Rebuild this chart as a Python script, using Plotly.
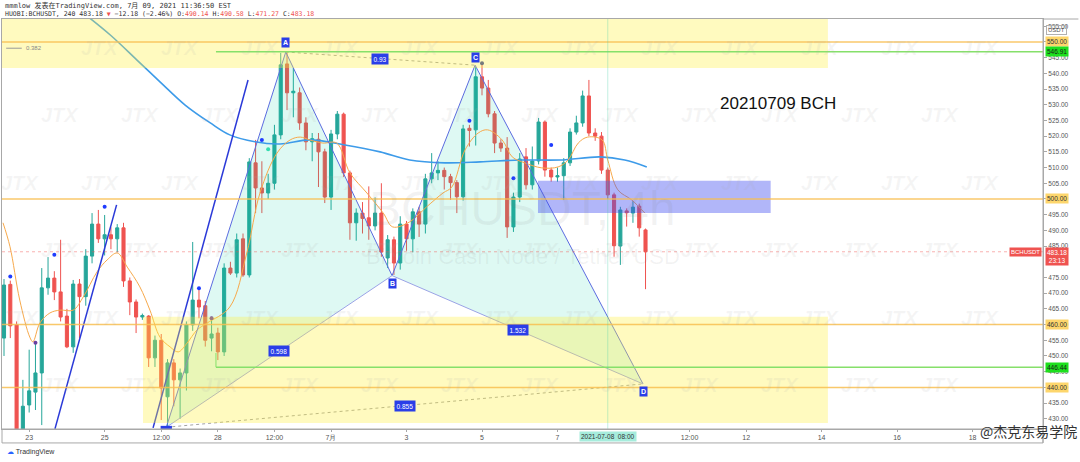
import plotly.graph_objects as go

# ---------------- data (4h bars, first bar 2021-06-22 08:00) ----------------
bar_open = [455.7, 472.8, 459.9, 425.0, 434.4, 438.5, 444.6, 471.7, 474.8, 470.4,
            462.7, 452.9, 472.9, 468.9, 481.8, 492.0, 487.3, 488.6, 487.3, 490.8,
            473.9, 467.2, 462.4, 462.7, 449.4, 455.0, 437.0, 447.8, 442.4, 444.6,
            459.9, 467.8, 466.0, 455.7, 457.3, 451.3, 478.0, 476.4, 487.3, 475.8,
            511.5, 503.5, 501.9, 505.0, 520.4, 543.0, 533.8, 533.8, 524.2, 518.2,
            519.0, 515.0, 500.6, 520.7, 527.0, 508.3, 492.4, 495.5, 494.0, 491.4,
            495.5, 481.2, 487.0, 479.6, 492.0, 487.3, 495.9, 492.0, 506.4, 508.3,
            509.1, 507.1, 505.2, 500.7, 522.5, 522.0, 538.9, 535.3, 527.1, 517.8,
            516.2, 491.1, 500.6, 513.4, 504.5, 512.1, 524.5, 509.2, 507.0, 507.4,
            511.5, 521.3, 524.2, 532.8, 521.0, 520.0, 509.2, 501.3, 485.0, 496.2,
            495.5, 497.7, 490.14]
bar_high = [474.5, 474.0, 461.0, 442.4, 452.0, 454.0, 478.0, 481.5, 477.0, 487.0,
            465.0, 474.2, 474.5, 484.0, 495.5, 496.5, 494.9, 491.0, 492.0, 492.4,
            475.0, 468.0, 463.5, 463.0, 456.5, 457.0, 449.0, 449.0, 446.0, 461.0,
            486.3, 471.0, 467.5, 462.0, 459.0, 479.5, 480.0, 489.0, 489.0, 513.0,
            518.8, 512.0, 508.0, 523.6, 546.5, 546.8, 541.7, 535.5, 526.0, 521.0,
            521.0, 516.0, 522.0, 528.0, 527.5, 509.0, 497.0, 499.0, 504.0, 500.5,
            505.0, 488.5, 488.0, 494.5, 493.0, 497.0, 497.5, 508.0, 514.6, 512.0,
            510.0, 508.0, 506.0, 523.6, 523.6, 542.1, 542.8, 537.9, 528.0, 519.0,
            519.7, 502.0, 514.6, 516.2, 516.7, 525.8, 525.0, 510.0, 510.0, 513.0,
            522.5, 526.5, 534.5, 537.9, 522.5, 521.3, 510.0, 502.0, 497.5, 497.0,
            499.3, 498.5, 490.58]
bar_low = [450.0, 455.7, 421.0, 421.0, 432.0, 432.8, 428.0, 469.5, 467.8, 461.0,
           452.5, 451.0, 455.7, 466.0, 479.5, 486.0, 482.0, 484.0, 483.0, 472.0,
           463.0, 457.3, 461.5, 446.5, 446.5, 429.6, 427.5, 434.0, 430.0, 439.0,
           458.0, 462.0, 453.0, 451.5, 448.7, 450.0, 475.8, 475.0, 475.2, 475.0,
           495.5, 495.5, 500.0, 503.0, 519.0, 528.3, 526.0, 522.0, 515.5, 512.0,
           503.8, 498.7, 496.5, 519.0, 507.0, 487.0, 486.7, 489.0, 487.0, 490.0,
           481.6, 478.0, 475.8, 477.5, 483.5, 483.0, 487.9, 489.0, 505.0, 506.0,
           503.0, 499.7, 495.5, 499.5, 516.7, 517.0, 533.0, 526.0, 514.6, 515.0,
           487.6, 489.5, 499.0, 503.0, 503.0, 511.0, 507.1, 505.5, 505.5, 499.7,
           510.5, 520.5, 523.0, 520.0, 518.5, 508.0, 500.0, 481.6, 479.0, 491.2,
           492.4, 488.0, 471.27]
bar_close = [472.6, 459.6, 425.0, 434.0, 438.9, 444.6, 471.7, 474.8, 470.4, 462.4,
             452.9, 472.9, 468.9, 481.8, 492.0, 487.3, 488.6, 487.3, 490.8, 473.9,
             467.2, 462.4, 462.9, 449.4, 455.0, 439.8, 447.8, 442.4, 444.6, 459.9,
             467.8, 465.6, 455.0, 457.0, 451.3, 478.0, 476.4, 487.0, 475.8, 511.8,
             503.5, 501.9, 505.0, 520.4, 542.7, 533.8, 534.3, 524.2, 518.2, 519.2,
             515.0, 500.6, 520.7, 527.0, 508.3, 492.4, 495.5, 493.8, 491.4, 495.5,
             483.1, 487.0, 479.6, 492.0, 487.3, 495.9, 492.0, 506.4, 508.3, 509.1,
             507.1, 505.2, 500.7, 522.3, 521.8, 538.9, 535.3, 527.1, 517.8, 516.2,
             491.1, 500.6, 512.7, 504.5, 512.1, 524.5, 509.2, 507.0, 507.4, 511.5,
             521.3, 524.2, 532.8, 521.0, 520.0, 509.2, 501.3, 485.1, 496.5, 495.6,
             497.4, 490.8, 483.18]
bar_pos = list(range(len(bar_close)))

# short moving average (orange)
ema_pos = [-0.16, 0.95, 2.5, 4.1, 4.6, 5.7, 7.3, 8.9, 11, 12.6,
           14.8, 16.4, 18, 19.6, 21.6, 23.2, 24.8, 26.4, 27.7, 29.1,
           30.7, 32.3, 35.9, 38.6, 40.7, 43.4, 45.5, 47.1, 48.6, 50.7,
           52.9, 55, 57.7, 60.3, 61.8, 64.5, 67.2, 69.8, 71.2, 73.3,
           75.4, 76.9, 79.2, 80.8, 82.8, 85.5, 88.1, 89.7, 91.3, 92.8,
           95.1, 96, 97.6, 99.8, 101.9]
ema_val = [492.4, 484.8, 467.8, 456, 454.5, 460.5, 463.7, 464.6, 464.6, 468.8,
           476.8, 480.6, 482.8, 478.3, 472, 464.6, 456, 452.9, 451.3, 454.1,
           458.3, 460.5, 465.6, 482.8, 501.9, 514.6, 518.8, 519.7, 518.8, 517.8,
           517.8, 508.3, 501.9, 495.5, 491.1, 492.7, 497.5, 501.9, 503.8, 515.6,
           521, 522, 518.8, 513.4, 511.5, 509.9, 510.2, 512.4, 517.8, 519.7,
           518.8, 512.4, 502.9, 499.7, 495.5]
# long moving average (blue)
ma_pos = [12.1, 16.9, 21.1, 24.8, 28.8, 32.8, 35.9, 39.9, 43.9, 48.6,
          54.2, 59.8, 64.5, 70.1, 75.7, 82, 88.4, 94.8, 98.7, 102.2]
ma_val = [560, 552.2, 544.3, 537.3, 529.9, 524.2, 520.4, 518.2, 517.5, 518.8,
          517.2, 515, 512.4, 511.5, 511.8, 512.4, 512.4, 513.4, 512.4, 510.2]

# XABCD pattern
pattern_names = ["X", "A", "B", "C", "D"]
pattern_pos = [25.8, 44.8, 61.7, 74.9, 101.6]
pattern_price = [427.3, 546.8, 475.6, 542.6, 441.1]
ratio_text = {"AC": "0.93", "XB": "0.598", "BD": "1.532", "XD": "0.855"}

# trend lines
trend1_pos = [8.1, 17.9]
trend1_price = [426.8, 498.1]
trend2_pos = [23.7, 38.8]
trend2_price = [427.1, 537.9]

# fractal dots
dot_pos = [1, 8, 5, 16, 31, 33, 41, 42, 74, 76, 81, 87]
dot_price = [475.3, 482.2, 454.2, 497.5, 471.6, 462.0, 518.8, 515.8, 524.9, 543.2, 506.6, 517.2]
dot_color = ["#1f3cff", "#1f3cff", "#6a3fa0", "#1f3cff", "#1f3cff", "#6a3fa0",
             "#1f3cff", "#35dcb0", "#1f3cff", "#34409c", "#1f3cff", "#1f3cff"]

# levels
orange_levels = [550, 500, 460, 440]
green_levels = [546.91, 446.44]
last_price = 483.18

# axis labels (480.00 is hidden behind the last-price tag in the original)
tick_pos = [4, 16, 25, 34, 43, 52, 64, 76, 88, 109, 118, 130, 142, 154]
tick_text = ["23", "25", "12:00", "28", "12:00", "7月", "3", "5", "7", "12:00", "12", "14", "16", "18"]
price_ticks = [430, 435, 440, 445, 450, 455, 460, 465, 470, 475, 485, 490,
               495, 500, 505, 510, 515, 520, 525, 530, 535, 540, 545, 550, 555]
price_tick_text = ["%.2f" % v for v in price_ticks]

X_RANGE = [-0.32, 165.2]
Y_RANGE = [426.75, 557.3]

fig = go.Figure()

# pattern fills
for tri in [(0, 1, 2), (2, 3, 4)]:
    xs = [pattern_pos[k] for k in tri] + [pattern_pos[tri[0]]]
    ys = [pattern_price[k] for k in tri] + [pattern_price[tri[0]]]
    fig.add_trace(go.Scatter(x=xs, y=ys, mode="lines", fill="toself",
                             fillcolor="rgba(0,205,165,0.13)", line=dict(width=0),
                             hoverinfo="skip", showlegend=False))

# moving averages
fig.add_trace(go.Scatter(x=ma_pos, y=ma_val, mode="lines", line=dict(color="#3d9be9", width=1.6, shape="spline"),
                         hoverinfo="skip", showlegend=False))
fig.add_trace(go.Scatter(x=ema_pos, y=ema_val, mode="lines", line=dict(color="#f7a94b", width=1, shape="spline"),
                         hoverinfo="skip", showlegend=False))

# candles
fig.add_trace(go.Candlestick(x=bar_pos, open=bar_open, high=bar_high, low=bar_low, close=bar_close,
                             increasing=dict(line=dict(color="#26a69a", width=1), fillcolor="#26a69a"),
                             decreasing=dict(line=dict(color="#ef5350", width=1), fillcolor="#ef5350"),
                             whiskerwidth=0, showlegend=False))

# pattern lines
def seg(i, j, color, width=1, dash="solid"):
    fig.add_trace(go.Scatter(x=[pattern_pos[i], pattern_pos[j]], y=[pattern_price[i], pattern_price[j]],
                             mode="lines", line=dict(color=color, width=width, dash=dash),
                             hoverinfo="skip", showlegend=False))

for i, j in [(0, 1), (1, 2), (2, 3), (3, 4)]:
    seg(i, j, "#5b6be0", 1)
for i, j in [(0, 2), (2, 4)]:
    seg(i, j, "#9aa3e6", 1)
for i, j in [(1, 3), (0, 4)]:
    seg(i, j, "#a3a3a3", 1, "dot")

# trend lines
for xs, ys in [(trend1_pos, trend1_price), (trend2_pos, trend2_price)]:
    fig.add_trace(go.Scatter(x=xs, y=ys, mode="lines", line=dict(color="#2a39d8", width=1.5),
                             hoverinfo="skip", showlegend=False))

# dots
fig.add_trace(go.Scatter(x=dot_pos, y=dot_price, mode="markers",
                         marker=dict(color=dot_color, size=4), hoverinfo="skip", showlegend=False))

# ---------------- shapes ----------------
shapes = []
for x0, x1, y0, y1 in [(X_RANGE[0], 131, 541.7, Y_RANGE[1]), (22.1, 131, 428.7, 462.5)]:
    shapes.append(dict(type="rect", xref="x", yref="y", x0=x0, x1=x1, y0=y0, y1=y1,
                       fillcolor="rgba(255,240,60,0.33)", line=dict(width=0), layer="above"))
shapes.append(dict(type="rect", xref="x", yref="y", x0=84.9, x1=121.9, y0=495.5, y1=505.8,
                   fillcolor="rgba(70,80,240,0.42)", line=dict(width=0), layer="above"))
for lv in orange_levels:
    shapes.append(dict(type="line", xref="paper", yref="y", x0=0, x1=1, y0=lv, y1=lv,
                       line=dict(color="rgba(248,190,80,0.85)", width=1.5), layer="above"))
for lv in green_levels:
    shapes.append(dict(type="line", xref="x", yref="y", x0=33.7, x1=X_RANGE[1], y0=lv, y1=lv,
                       line=dict(color="#86e06a", width=1.5), layer="above"))
shapes.append(dict(type="line", xref="x", yref="y", x0=33.7, x1=33.7, y0=green_levels[1], y1=green_levels[1] + 4.5,
                   line=dict(color="#86e06a", width=1), layer="above"))
shapes.append(dict(type="line", xref="paper", yref="y", x0=0, x1=1, y0=last_price, y1=last_price,
                   line=dict(color="rgba(239,83,80,0.45)", width=1, dash="dot")))
shapes.append(dict(type="line", xref="x", yref="paper", x0=96, x1=96, y0=0, y1=1,
                   line=dict(color="rgba(80,210,170,0.35)", width=1)))
shapes.append(dict(type="rect", xref="x", yref="y", x0=pattern_pos[0] - 0.9, x1=pattern_pos[0] + 0.9,
                   y0=Y_RANGE[0], y1=Y_RANGE[0] + 1.0, fillcolor="#2a3ee8", line=dict(width=0), layer="above"))
shapes.append(dict(type="rect", xref="paper", yref="paper", x0=0, x1=1, y0=-0.034, y1=0,
                   line=dict(color="#a8a8a8", width=1)))
shapes.append(dict(type="line", xref="paper", yref="paper", x0=1, x1=1, y0=-0.034, y1=1,
                   line=dict(color="#a8a8a8", width=1)))
shapes.append(dict(type="line", xref="paper", yref="paper", x0=1, x1=1.034, y0=1, y1=1,
                   line=dict(color="#a8a8a8", width=1)))
shapes.append(dict(type="line", xref="paper", yref="y", x0=0.004, x1=0.019, y0=548.0, y1=548.0,
                   line=dict(color="#9a9a9a", width=1)))

# ---------------- annotations ----------------
ann = []
# JTX watermarks
for r, yy in enumerate([48, 115, 183, 250, 318, 385]):
    off = 0 if r % 2 == 0 else 40
    for c in range(14):
        xx = 20 + off + 80 * c
        if xx > 1015 or (r == 0 and c == 0):
            continue
        ann.append(dict(xref="paper", yref="paper", x=(xx - 2) / 1041, y=1 - (yy - 19) / 410,
                        xanchor="center", yanchor="middle",
                        text="<b><i>JTX</i></b>", showarrow=False,
                        font=dict(size=20, color="rgba(170,170,170,0.12)", family="Liberation Sans")))
# pane watermark
ann.append(dict(xref="paper", yref="paper", x=0.5, y=0.539, xanchor="center", text="BCHUSDT, 4h", showarrow=False,
                font=dict(size=48, color="rgba(120,120,120,0.09)", family="Liberation Sans")))
ann.append(dict(xref="paper", yref="paper", x=0.5, y=0.42, xanchor="center", text="Bitcoin Cash Node / Tether USD",
                showarrow=False, font=dict(size=22, color="rgba(120,120,120,0.09)", family="Liberation Sans")))

# pattern labels
lab_font = dict(size=7, color="white", family="Liberation Sans")
shift = [-8, 9, -8, 8, -8]
for k in range(1, 5):
    ann.append(dict(x=pattern_pos[k], y=pattern_price[k], text="<b>%s</b>" % pattern_names[k], showarrow=False,
                    xanchor="center", yshift=shift[k], bgcolor="#2a3ee8", borderpad=1, font=lab_font))
idx = {n: k for k, n in enumerate(pattern_names)}
for key, txt in ratio_text.items():
    a, b = idx[key[0]], idx[key[1]]
    ann.append(dict(x=(pattern_pos[a] + pattern_pos[b]) / 2, y=(pattern_price[a] + pattern_price[b]) / 2,
                    xanchor="center", text=txt, showarrow=False, bgcolor="#2a3ee8", borderpad=1.5,
                    font=dict(size=6.5, color="white", family="Liberation Sans")))

# title text
ann.append(dict(xref="paper", yref="paper", x=0.7454, y=0.795, xanchor="center", yanchor="middle",
                text="20210709 BCH", showarrow=False,
                font=dict(size=17, color="#111111", family="Liberation Sans")))
# 0.382 label
ann.append(dict(xref="paper", yref="y", x=0.021, y=548.0, xanchor="left", text="0.382", showarrow=False,
                font=dict(size=6, color="#888888", family="Liberation Sans")))

# header lines
ann.append(dict(xref="paper", yref="paper", x=0.001, y=1.032, xanchor="left", yanchor="middle",
                text="mmmlow 发表在TradingView.com, 7月 09, 2021 11:36:50 EST", showarrow=False,
                font=dict(size=7, color="#333333", family="DejaVu Sans Mono, Noto Sans CJK SC")))
red = "#ef5350"
hdr2 = ("HUOBI:BCHUSDT, 240 483.18 <span style='color:%s'>▼</span> −12.18 (−2.46%%) "
        "O:<span style='color:%s'>490.14</span> H:<span style='color:%s'>490.58</span> "
        "L:<span style='color:%s'>471.27</span> C:<span style='color:%s'>483.18</span>") % (red, red, red, red, red)
ann.append(dict(xref="paper", yref="paper", x=0.001, y=1.011, xanchor="left", yanchor="middle",
                text=hdr2, showarrow=False,
                font=dict(size=6.5, color="#333333", family="DejaVu Sans Mono")))

# price axis tags
def axis_tag(price, text, bg, fg, yanchor="middle", yshift=0):
    ann.append(dict(xref="paper", yref="y", x=1, xanchor="left", xshift=2, y=price, yanchor=yanchor,
                    yshift=yshift, text=text, showarrow=False, bgcolor=bg, borderpad=1,
                    font=dict(size=6.5, color=fg, family="Liberation Sans")))

for lv in orange_levels:
    axis_tag(lv, "%.2f" % lv, "#fdd66c", "#333333")
for lv in green_levels:
    axis_tag(lv, "%.2f" % lv, "#1de01d", "#1a1a1a")
axis_tag(last_price, "%.2f<br>23:13" % last_price, red, "white", yanchor="top", yshift=5)
ann.append(dict(xref="paper", yref="y", x=1, xanchor="right", xshift=-1, y=last_price, text="BCHUSDT",
                showarrow=False, bgcolor=red, borderpad=1, font=dict(size=6, color="white", family="Liberation Sans")))
ann.append(dict(xref="paper", yref="paper", x=1, xanchor="left", xshift=3, y=1, yanchor="top", yshift=-6,
                text="USDT", showarrow=False, bordercolor="#b0b0b0", borderwidth=1, borderpad=1,
                font=dict(size=6, color="#555555", family="Liberation Sans")))

# crosshair time tag
ann.append(dict(x=96, xref="x", yref="paper", y=0, xanchor="center", yanchor="top", yshift=-2,
                text="2021-07-08  08:00", showarrow=False, bgcolor="#a6ecdc", borderpad=1,
                font=dict(size=6.5, color="#333333", family="Liberation Sans")))

# bottom texts
ann.append(dict(xref="paper", yref="paper", x=0.003, y=-0.057, xanchor="left", yanchor="middle",
                text="<span style='color:#2962ff'>☁</span> TradingView", showarrow=False,
                font=dict(size=7, color="#333333", family="Liberation Sans")))
ann.append(dict(xref="paper", yref="paper", x=1.035, y=-0.005, xanchor="right", yanchor="middle",
                text="@杰克东易学院", showarrow=False,
                font=dict(size=14, color="#333333", family="Noto Sans CJK SC")))

fig.update_layout(
    width=1080, height=462, autosize=False,
    margin=dict(l=2, r=37, t=19, b=33, pad=0),
    paper_bgcolor="white", plot_bgcolor="white",
    showlegend=False,
    shapes=shapes, annotations=ann,
    xaxis=dict(range=X_RANGE, tickmode="array", tickvals=tick_pos, ticktext=tick_text,
               showgrid=False, zeroline=False, rangeslider=dict(visible=False),
               showline=True, linecolor="#a8a8a8", linewidth=1, mirror=True,
               ticks="outside", ticklen=2, tickcolor="#a8a8a8",
               tickfont=dict(size=7, color="#555555", family="Liberation Sans")),
    yaxis=dict(range=Y_RANGE, side="right", tickmode="array", tickvals=price_ticks, ticktext=price_tick_text,
               showgrid=False, zeroline=False,
               showline=True, linecolor="#a8a8a8", linewidth=1, mirror=True,
               ticks="outside", ticklen=3, tickcolor="#a8a8a8",
               tickfont=dict(size=6.5, color="#555555", family="Liberation Sans")),
    font=dict(family="Liberation Sans"),
)

fig.write_html("out.html")
